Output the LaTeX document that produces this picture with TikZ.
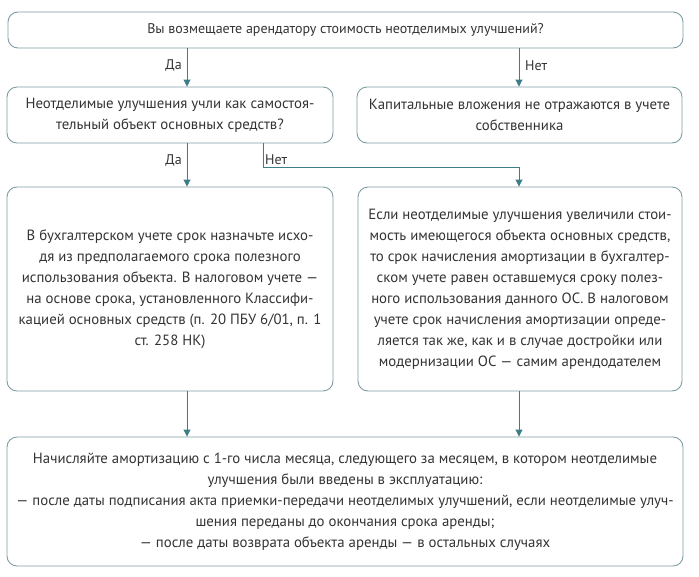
\documentclass[tikz,border=0pt]{standalone}
\usepackage{fontspec}
\setmainfont{PT Sans}
\usepackage{xcolor}
\usetikzlibrary{arrows.meta,positioning,calc}
\definecolor{boxline}{HTML}{7F9CA4}
\definecolor{arrowline}{HTML}{3D7D8A}
\definecolor{txt}{HTML}{333333}

\begin{document}
\begin{tikzpicture}[x=1pt, y=-1pt,
    box/.style={rectangle, rounded corners=10pt, draw=boxline, line width=0.9pt, align=center, text=txt, font=\fontsize{14.8}{21}\selectfont, inner sep=0pt},
    arrow/.style={-{Triangle[length=7pt,width=7pt]}, draw=arrowline, line width=0.9pt},
    lbl/.style={text=txt, font=\fontsize{14}{16}\selectfont, inner sep=1pt}
]
\useasboundingbox (0,0) rectangle (699,576);

\node[box, font=\fontsize{14}{21}\selectfont, minimum width=675pt, minimum height=36pt] (ask) at (345.5,30) {Вы возмещаете арендатору стоимость неотделимых улучшений?};
\node[box, minimum width=326pt, minimum height=56pt] (own) at (170,115) {Неотделимые улучшения учли как самостоя-\\тельный объект основных средств?};
\node[box, minimum width=325pt, minimum height=56pt] (none) at (519.5,115) {Капитальные вложения не отражаются в учете\\собственника};
\node[box, minimum width=326pt, minimum height=204pt] (term) at (170,289) {В бухгалтерском учете срок назначьте исхо-\\дя из предполагаемого срока полезного\\использования объекта. В налоговом учете —\\на основе срока, установленного Классифи-\\кацией основных средств (п. 20 ПБУ 6/01, п. 1\\ст. 258 НК)};
\node[box, minimum width=324pt, minimum height=204pt] (rest) at (520,289) {Если неотделимые улучшения увеличили стои-\\мость имеющегося объекта основных средств,\\то срок начисления амортизации в бухгалтер-\\ском учете равен оставшемуся сроку полез-\\ного использования данного ОС. В налоговом\\учете срок начисления амортизации опреде-\\ляется так же, как и в случае достройки или\\модернизации ОС — самим арендодателем};
\node[box, minimum width=676pt, minimum height=129pt] (start) at (345,501.5) {Начисляйте амортизацию с 1-го числа месяца, следующего за месяцем, в котором неотделимые\\улучшения были введены в эксплуатацию:\\— после даты подписания акта приемки-передачи неотделимых улучшений, если неотделимые улуч-\\шения переданы до окончания срока аренды;\\— после даты возврата объекта аренды — в остальных случаях};

\coordinate (lx) at (187,0);
\coordinate (rx) at (519,0);
\coordinate (nx) at (263,0);

\draw[arrow] (ask.south -| lx) -- (own.north -| lx);
\draw[arrow] (ask.south -| rx) -- (none.north -| rx);
\draw[arrow] (own.south -| lx) -- (term.north -| lx);
\draw[arrow] (own.south -| nx) -- ++(0,24) -| (rest.north -| rx);
\draw[arrow] (term.south -| lx) -- (start.north -| lx);
\draw[arrow] (rest.south -| rx) -- (start.north -| rx);

\node[lbl, anchor=east] (yes1) at (183,66) {Да};
\node[lbl, anchor=west] (no1) at (524,66) {Нет};
\node[lbl, anchor=east] (yes2) at (183,160) {Да};
\node[lbl, anchor=south west] (no2) at (264,166) {Нет};
\end{tikzpicture}
\end{document}
